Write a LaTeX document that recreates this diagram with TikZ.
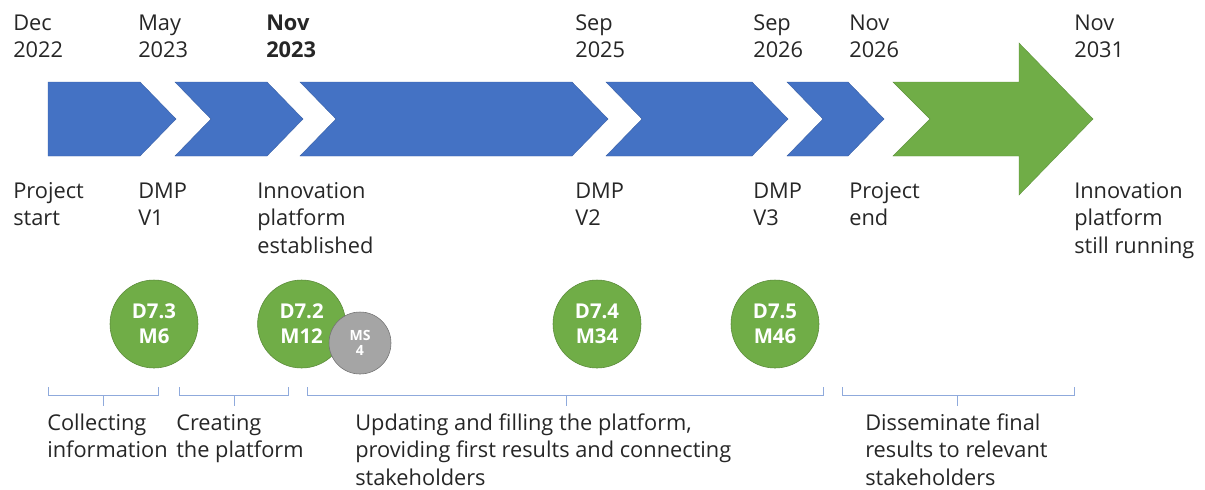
\documentclass[tikz,border=0pt]{standalone}
\usepackage{fontspec}
\setmainfont{Open Sans}
\usepackage{xcolor}
\definecolor{azulChev}{HTML}{4472C4}
\definecolor{verdeDel}{HTML}{70AD47}
\definecolor{grisMS}{HTML}{A5A5A5}
\definecolor{azulLlave}{HTML}{8FAADC}
\definecolor{textoOsc}{HTML}{262626}
\usepackage{tikz}
\usetikzlibrary{positioning}

\begin{document}
\begin{tikzpicture}[
 chev/.style={fill=azulChev,draw=azulChev!85!black,line width=.3pt},
 flecha/.style={fill=verdeDel,draw=verdeDel!85!black,line width=.3pt},
 lbl/.style={anchor=base west,inner sep=0pt,align=left,text=textoOsc,
 font=\fontsize{15.5}{19.5}\selectfont},
 dlv/.style={circle,fill=verdeDel,draw=verdeDel!80!black,line width=.4pt,
 minimum size=2.2cm,inner sep=0pt,align=center,text=white,
 font=\bfseries\fontsize{14.5}{17.8}\selectfont},
 ms/.style={circle,fill=grisMS,draw=grisMS!70!black,line width=.4pt,
 minimum size=1.55cm,inner sep=0pt,align=center,text=white,
 font=\bfseries\fontsize{10}{11}\selectfont},
 llave/.style={draw=azulLlave,line width=.6pt}]
 \useasboundingbox (0,0) rectangle (30.125,-12.225);
 % timeline
 \filldraw[chev] (1.2,-2.05)--(3.5,-2.05)--(4.4,-2.975)--(3.5,-3.9)--(1.2,-3.9)--cycle;
 \filldraw[chev] (4.375,-2.05)--(6.675,-2.05)--(7.575,-2.975)--(6.675,-3.9)--(4.375,-3.9)--(5.275,-2.975)--cycle;
 \filldraw[chev] (7.5,-2.05)--(14.3,-2.05)--(15.2,-2.975)--(14.3,-3.9)--(7.5,-3.9)--(8.4,-2.975)--cycle;
 \filldraw[chev] (15.15,-2.05)--(18.8,-2.05)--(19.7,-2.975)--(18.8,-3.9)--(15.15,-3.9)--(16.05,-2.975)--cycle;
 \filldraw[chev] (19.675,-2.05)--(21.2,-2.05)--(22.1,-2.975)--(21.2,-3.9)--(19.675,-3.9)--(20.575,-2.975)--cycle;
 \filldraw[flecha] (22.325,-2.05)--(25.475,-2.05)--(25.475,-1.075)--(27.325,-2.975)
 --(25.475,-4.875)--(25.475,-3.9)--(22.325,-3.9)--(23.25,-2.975)--cycle;
 % dates (base = last line)
 \node[lbl] (dec22) at (0.325,-1.4375) {Dec\\2022};
 \node[lbl] (may23) at (3.45,-1.4375) {May\\2023};
 \node[lbl] (nov23) at (6.65,-1.4375) {\bfseries Nov\\\bfseries 2023};
 \node[lbl] (sep25) at (14.375,-1.4375) {Sep\\2025};
 \node[lbl] (sep26) at (18.825,-1.4375) {Sep\\2026};
 \node[lbl] (nov26) at (21.225,-1.4375) {Nov\\2026};
 \node[lbl] (nov31) at (26.85,-1.4375) {Nov\\2031};
 % events
 \node[lbl] (start) at (0.325,-5.6375) {Project\\start};
 \node[lbl] (dmp1) at (3.45,-5.6375) {DMP\\V1};
 \node[lbl] (platf) at (6.425,-6.325) {Innovation\\platform\\established};
 \node[lbl] (dmp2) at (14.375,-5.6375) {DMP\\V2};
 \node[lbl] (dmp3) at (18.825,-5.6375) {DMP\\V3};
 \node[lbl] (pend) at (21.225,-5.6375) {Project\\end};
 \node[lbl] (running) at (26.85,-6.325) {Innovation\\platform\\still running};
 % deliverables
 \node[dlv] (d73) at (3.85,-8.1) {D7.3\\M6};
 \node[dlv] (d72) at (7.54,-8.1) {D7.2\\M12};
 \node[ms] (ms4) at (9.0,-8.575) {MS\\4};
 \node[dlv] (d74) at (14.925,-8.1) {D7.4\\M34};
 \node[dlv] (d75) at (19.375,-8.1) {D7.5\\M46};
 % phases
 \draw[llave] (1.2,-9.675)--(1.2,-9.875)--(3.95,-9.875)--(3.95,-9.675) (2.575,-9.875)--(2.575,-10.15);
 \draw[llave] (4.475,-9.675)--(4.475,-9.875)--(7.2,-9.875)--(7.2,-9.675) (5.85,-9.875)--(5.85,-10.15);
 \draw[llave] (7.675,-9.675)--(7.675,-9.875)--(20.575,-9.875)--(20.575,-9.675) (14.15,-9.875)--(14.15,-10.15);
 \draw[llave] (21.05,-9.675)--(21.05,-9.875)--(26.85,-9.875)--(26.85,-9.675) (23.925,-9.875)--(23.925,-10.15);
 \node[lbl] (collect) at (1.175,-11.4375) {Collecting\\information};
 \node[lbl] (create) at (4.4,-11.4375) {Creating\\the platform};
 \node[lbl] (update) at (8.875,-12.125) {Updating and filling the platform,\\providing first results and connecting\\stakeholders};
 \node[lbl] (dissem) at (21.625,-12.125) {Disseminate final\\results to relevant\\stakeholders};
\end{tikzpicture}
\end{document}
